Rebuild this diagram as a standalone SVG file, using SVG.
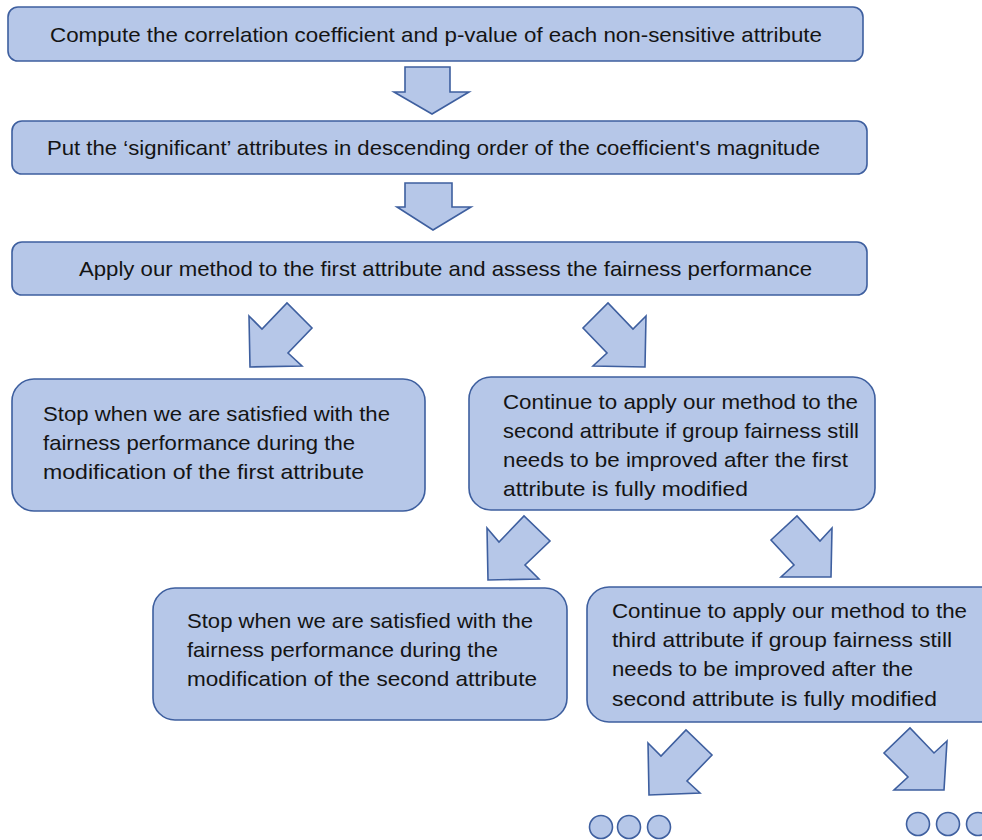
<svg xmlns="http://www.w3.org/2000/svg" width="982" height="840" viewBox="0 0 982 840">
<style>
.box{fill:#b6c7e8;stroke:#3e5f9f;stroke-width:1.6}
.arr{fill:#b6c7e8;stroke:#3e5f9f;stroke-width:1.6;stroke-linejoin:miter}
.dot{fill:#b6c7e8;stroke:#3e5f9f;stroke-width:1.6}
text{font-family:"Liberation Sans",Arial,sans-serif;font-size:21px;fill:#141414}
</style>
<rect width="982" height="840" fill="#ffffff"/>
<g id="n1">
<rect class="box" x="8" y="7" width="855" height="54" rx="10"/>
<text x="50" y="42" textLength="772" lengthAdjust="spacingAndGlyphs">Compute the correlation coefficient and p-value of each non-sensitive attribute</text>
</g>
<g id="n2">
<rect class="box" x="12" y="121" width="855" height="53" rx="10"/>
<text x="47" y="155" textLength="773" lengthAdjust="spacingAndGlyphs">Put the ‘significant’ attributes in descending order of the coefficient's magnitude</text>
</g>
<g id="n3">
<rect class="box" x="12" y="242" width="855" height="53" rx="10"/>
<text x="79" y="276" textLength="733" lengthAdjust="spacingAndGlyphs">Apply our method to the first attribute and assess the fairness performance</text>
</g>
<g id="n4">
<rect class="box" x="12" y="379" width="413" height="132" rx="22"/>
<text x="43" y="421" textLength="347" lengthAdjust="spacingAndGlyphs">Stop when we are satisfied with the</text>
<text x="43" y="450" textLength="312" lengthAdjust="spacingAndGlyphs">fairness performance during the</text>
<text x="43" y="479" textLength="321" lengthAdjust="spacingAndGlyphs">modification of the first attribute</text>
</g>
<g id="n5">
<rect class="box" x="469" y="377" width="406" height="133" rx="22"/>
<text x="503" y="409" textLength="355" lengthAdjust="spacingAndGlyphs">Continue to apply our method to the</text>
<text x="503" y="438" textLength="356" lengthAdjust="spacingAndGlyphs">second attribute if group fairness still</text>
<text x="503" y="467" textLength="345" lengthAdjust="spacingAndGlyphs">needs to be improved after the first</text>
<text x="503" y="496" textLength="245" lengthAdjust="spacingAndGlyphs">attribute is fully modified</text>
</g>
<g id="n6">
<rect class="box" x="153" y="588" width="414" height="132" rx="22"/>
<text x="187" y="628" textLength="346" lengthAdjust="spacingAndGlyphs">Stop when we are satisfied with the</text>
<text x="187" y="657" textLength="311" lengthAdjust="spacingAndGlyphs">fairness performance during the</text>
<text x="187" y="686" textLength="350" lengthAdjust="spacingAndGlyphs">modification of the second attribute</text>
</g>
<g id="n7">
<rect class="box" x="587" y="587" width="420" height="135" rx="22"/>
<text x="612" y="618" textLength="355" lengthAdjust="spacingAndGlyphs">Continue to apply our method to the</text>
<text x="612" y="647" textLength="340" lengthAdjust="spacingAndGlyphs">third attribute if group fairness still</text>
<text x="612" y="676" textLength="301" lengthAdjust="spacingAndGlyphs">needs to be improved after the</text>
<text x="612" y="706" textLength="325" lengthAdjust="spacingAndGlyphs">second attribute is fully modified</text>
</g>
<g id="dots-left">
<circle class="dot" cx="601" cy="827" r="11.5"/>
<circle class="dot" cx="629" cy="827" r="11.5"/>
<circle class="dot" cx="659" cy="827" r="11.5"/>
</g>
<g id="dots-right">
<circle class="dot" cx="918" cy="824" r="11.5"/>
<circle class="dot" cx="948" cy="824" r="11.5"/>
<circle class="dot" cx="978" cy="824" r="11.5"/>
</g>
<g id="connectors">
<polygon class="arr" points="405,67 450,67 450,92 469,92 432,114 394,92 405,92"/>
<polygon class="arr" points="405,183 452,183 452,207 471,207 433,230 397,207 405,207"/>
<polygon class="arr" points="249,316 262,329 287,303 312,328 288,353 302,366 250,367"/>
<polygon class="arr" points="646,316 633,329 608,303 583,328 607,353 593,366 645,367"/>
<polygon class="arr" points="487,528 499,542 524,516 550,541 525,565 539,579 488,580"/>
<polygon class="arr" points="832,528 820,541 797,516 771,540 794,565 781,577 831,577"/>
<polygon class="arr" points="648,743 661,756 686,730 712,755 687,781 700,793 649,795"/>
<polygon class="arr" points="947,741 934,753 910,728 884,753 908,777 894,790 944,790"/>
</g>
</svg>
